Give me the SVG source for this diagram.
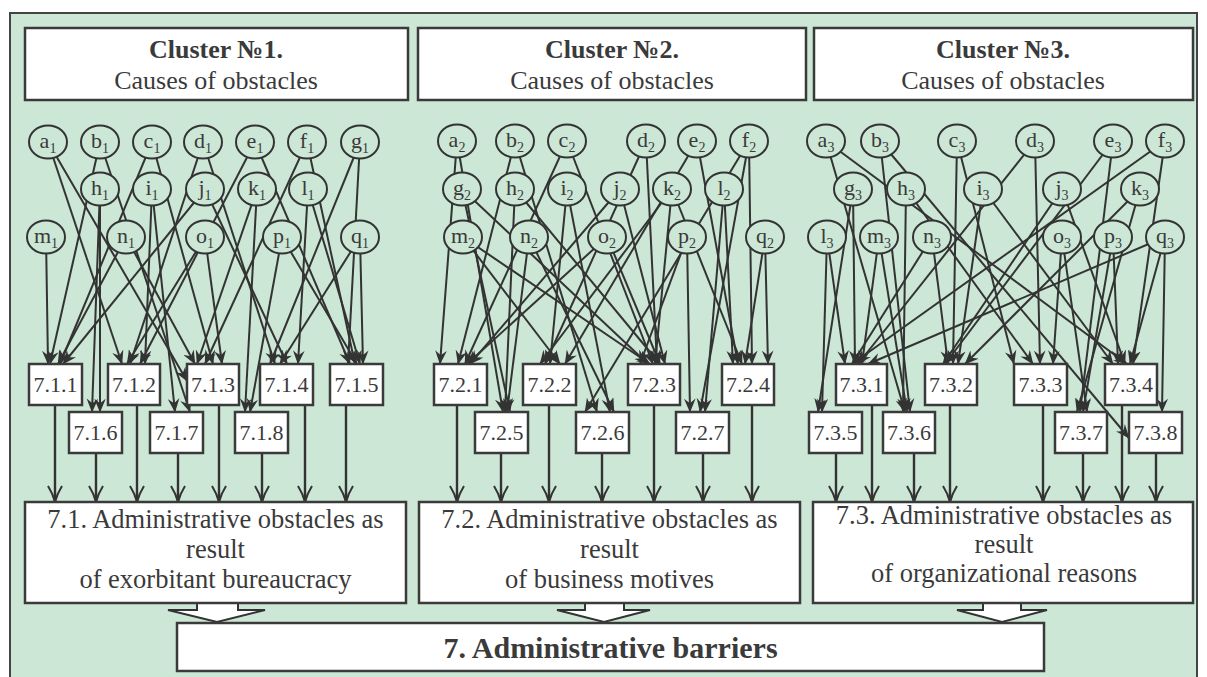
<svg xmlns="http://www.w3.org/2000/svg" width="1207" height="677" viewBox="0 0 1207 677">
<style>
text{font-family:"Liberation Serif","Times New Roman",serif;fill:#3a3a3a}
.e{stroke:#333;stroke-width:2;fill:none;marker-end:url(#ah)}
.v{stroke:#333;stroke-width:2.4;fill:none;marker-end:url(#ahb)}
.n ellipse{fill:#cce7d6;stroke:#333;stroke-width:2}
.n text{font-size:22px;text-anchor:middle}
.sub{font-size:14px}
.b rect{fill:#fff;stroke:#3a3a3a;stroke-width:2.5}
.b text{font-size:22px;text-anchor:middle}
.h text{font-size:26px;text-anchor:middle}
.h .t{font-weight:bold}
.r text{font-size:26.5px;text-anchor:middle}
.ba{fill:#fff;stroke:#333;stroke-width:2}
</style>
<defs>
<marker id="ah" markerUnits="userSpaceOnUse" markerWidth="14" markerHeight="12" viewBox="0 0 12 10" refX="11.5" refY="5" orient="auto"><path d="M0,0 L12,5 L0,10 L4,5 Z" fill="#333"/></marker>
<marker id="ahb" markerUnits="userSpaceOnUse" markerWidth="18" markerHeight="16" viewBox="0 0 18 16" refX="17" refY="8" orient="auto"><path d="M1,1 Q9,6 17,8 Q9,10 1,15" fill="none" stroke="#333" stroke-width="2"/></marker>
</defs>
<rect width="1207" height="677" fill="#fff"/>
<rect x="10" y="13" width="1187" height="700" fill="#cce7d6" stroke="#444" stroke-width="2"/>

<g id="connectors">
<!-- cluster 1 -->
<line class="e" x1="48" y1="142" x2="122" y2="364"/>
<line class="e" x1="48" y1="142" x2="187" y2="381"/>
<line class="e" x1="100" y1="142" x2="50" y2="364"/>
<line class="e" x1="100" y1="142" x2="190" y2="412"/>
<line class="e" x1="152" y1="142" x2="60" y2="364"/>
<line class="e" x1="152" y1="142" x2="213" y2="364"/>
<line class="e" x1="203" y1="142" x2="130" y2="364"/>
<line class="e" x1="203" y1="142" x2="275" y2="364"/>
<line class="e" x1="255" y1="142" x2="140" y2="364"/>
<line class="e" x1="255" y1="142" x2="350" y2="364"/>
<line class="e" x1="307" y1="142" x2="205" y2="364"/>
<line class="e" x1="307" y1="142" x2="355" y2="364"/>
<line class="e" x1="360" y1="142" x2="270" y2="364"/>
<line class="e" x1="360" y1="142" x2="348" y2="364"/>
<line class="e" x1="100" y1="189" x2="92" y2="412"/>
<line class="e" x1="100" y1="189" x2="100" y2="412"/>
<line class="e" x1="152" y1="189" x2="145" y2="364"/>
<line class="e" x1="152" y1="189" x2="175" y2="412"/>
<line class="e" x1="205" y1="189" x2="63" y2="364"/>
<line class="e" x1="205" y1="189" x2="287" y2="364"/>
<line class="e" x1="257" y1="189" x2="197" y2="364"/>
<line class="e" x1="257" y1="189" x2="245" y2="412"/>
<line class="e" x1="308" y1="189" x2="298" y2="364"/>
<line class="e" x1="308" y1="189" x2="360" y2="364"/>
<line class="e" x1="46" y1="237" x2="48" y2="364"/>
<line class="e" x1="126" y1="237" x2="58" y2="364"/>
<line class="e" x1="126" y1="237" x2="195" y2="364"/>
<line class="e" x1="205" y1="237" x2="127" y2="364"/>
<line class="e" x1="205" y1="237" x2="222" y2="364"/>
<line class="e" x1="282" y1="237" x2="250" y2="412"/>
<line class="e" x1="282" y1="237" x2="357" y2="364"/>
<line class="e" x1="360" y1="237" x2="280" y2="364"/>
<line class="e" x1="360" y1="237" x2="363" y2="364"/>
<!-- cluster 2 -->
<line class="e" x1="457" y1="141" x2="440" y2="364"/>
<line class="e" x1="457" y1="141" x2="503" y2="412"/>
<line class="e" x1="515" y1="141" x2="458" y2="364"/>
<line class="e" x1="515" y1="141" x2="597" y2="412"/>
<line class="e" x1="567" y1="141" x2="465" y2="364"/>
<line class="e" x1="567" y1="141" x2="653" y2="364"/>
<line class="e" x1="646" y1="141" x2="545" y2="364"/>
<line class="e" x1="646" y1="141" x2="657" y2="364"/>
<line class="e" x1="697" y1="141" x2="565" y2="364"/>
<line class="e" x1="697" y1="141" x2="738" y2="364"/>
<line class="e" x1="749" y1="141" x2="752" y2="364"/>
<line class="e" x1="749" y1="141" x2="700" y2="412"/>
<line class="e" x1="749" y1="141" x2="585" y2="412"/>
<line class="e" x1="462" y1="189" x2="510" y2="412"/>
<line class="e" x1="462" y1="189" x2="648" y2="364"/>
<line class="e" x1="515" y1="189" x2="505" y2="412"/>
<line class="e" x1="515" y1="189" x2="660" y2="364"/>
<line class="e" x1="567" y1="189" x2="550" y2="364"/>
<line class="e" x1="567" y1="189" x2="610" y2="412"/>
<line class="e" x1="620" y1="189" x2="470" y2="364"/>
<line class="e" x1="620" y1="189" x2="665" y2="364"/>
<line class="e" x1="672" y1="189" x2="540" y2="364"/>
<line class="e" x1="672" y1="189" x2="655" y2="364"/>
<line class="e" x1="672" y1="189" x2="742" y2="364"/>
<line class="e" x1="724" y1="189" x2="705" y2="412"/>
<line class="e" x1="724" y1="189" x2="733" y2="364"/>
<line class="e" x1="463" y1="237" x2="650" y2="364"/>
<line class="e" x1="463" y1="237" x2="560" y2="364"/>
<line class="e" x1="529" y1="237" x2="507" y2="412"/>
<line class="e" x1="529" y1="237" x2="614" y2="412"/>
<line class="e" x1="607" y1="237" x2="467" y2="364"/>
<line class="e" x1="607" y1="237" x2="660" y2="364"/>
<line class="e" x1="687" y1="237" x2="640" y2="364"/>
<line class="e" x1="687" y1="237" x2="690" y2="412"/>
<line class="e" x1="765" y1="237" x2="745" y2="364"/>
<line class="e" x1="765" y1="237" x2="768" y2="364"/>
<!-- cluster 3 -->
<line class="e" x1="826" y1="141" x2="905" y2="412"/>
<line class="e" x1="826" y1="141" x2="1127" y2="364"/>
<line class="e" x1="880" y1="141" x2="910" y2="412"/>
<line class="e" x1="880" y1="141" x2="1129" y2="438"/>
<line class="e" x1="957" y1="141" x2="953" y2="364"/>
<line class="e" x1="957" y1="141" x2="1014" y2="364"/>
<line class="e" x1="1035" y1="141" x2="858" y2="364"/>
<line class="e" x1="1035" y1="141" x2="1040" y2="364"/>
<line class="e" x1="1113" y1="141" x2="945" y2="364"/>
<line class="e" x1="1113" y1="141" x2="1080" y2="412"/>
<line class="e" x1="1165" y1="141" x2="852" y2="364"/>
<line class="e" x1="1165" y1="141" x2="1133" y2="364"/>
<line class="e" x1="853" y1="189" x2="818" y2="412"/>
<line class="e" x1="853" y1="189" x2="855" y2="364"/>
<line class="e" x1="906" y1="189" x2="903" y2="412"/>
<line class="e" x1="906" y1="189" x2="1033" y2="364"/>
<line class="e" x1="983" y1="189" x2="958" y2="364"/>
<line class="e" x1="983" y1="189" x2="1113" y2="364"/>
<line class="e" x1="1062" y1="189" x2="943" y2="364"/>
<line class="e" x1="1062" y1="189" x2="1125" y2="364"/>
<line class="e" x1="1140" y1="189" x2="965" y2="364"/>
<line class="e" x1="1140" y1="189" x2="1077" y2="412"/>
<line class="e" x1="827" y1="237" x2="822" y2="412"/>
<line class="e" x1="827" y1="237" x2="845" y2="364"/>
<line class="e" x1="879" y1="237" x2="862" y2="364"/>
<line class="e" x1="879" y1="237" x2="907" y2="412"/>
<line class="e" x1="932" y1="237" x2="852" y2="364"/>
<line class="e" x1="932" y1="237" x2="948" y2="364"/>
<line class="e" x1="1062" y1="237" x2="1053" y2="364"/>
<line class="e" x1="1062" y1="237" x2="1087" y2="412"/>
<line class="e" x1="1113" y1="237" x2="1083" y2="412"/>
<line class="e" x1="1113" y1="237" x2="1118" y2="364"/>
<line class="e" x1="1165" y1="237" x2="868" y2="364"/>
<line class="e" x1="1165" y1="237" x2="1130" y2="364"/>
<line class="e" x1="1165" y1="237" x2="1162" y2="412"/>
<!-- boxes to results -->
<line class="v" x1="55" y1="405" x2="55" y2="502"/>
<line class="v" x1="96" y1="453" x2="96" y2="502"/>
<line class="v" x1="137" y1="405" x2="137" y2="502"/>
<line class="v" x1="178" y1="453" x2="178" y2="502"/>
<line class="v" x1="219" y1="405" x2="219" y2="502"/>
<line class="v" x1="262" y1="453" x2="262" y2="502"/>
<line class="v" x1="305" y1="405" x2="305" y2="502"/>
<line class="v" x1="346" y1="405" x2="346" y2="502"/>
<line class="v" x1="457" y1="405" x2="457" y2="502"/>
<line class="v" x1="501" y1="453" x2="501" y2="502"/>
<line class="v" x1="549" y1="405" x2="549" y2="502"/>
<line class="v" x1="602" y1="453" x2="602" y2="502"/>
<line class="v" x1="654" y1="405" x2="654" y2="502"/>
<line class="v" x1="703" y1="453" x2="703" y2="502"/>
<line class="v" x1="752" y1="405" x2="752" y2="502"/>
<line class="v" x1="836" y1="453" x2="836" y2="502"/>
<line class="v" x1="872" y1="405" x2="872" y2="502"/>
<line class="v" x1="914" y1="453" x2="914" y2="502"/>
<line class="v" x1="950" y1="405" x2="950" y2="502"/>
<line class="v" x1="1043" y1="405" x2="1043" y2="502"/>
<line class="v" x1="1083" y1="453" x2="1083" y2="502"/>
<line class="v" x1="1122" y1="405" x2="1122" y2="502"/>
<line class="v" x1="1156" y1="453" x2="1156" y2="502"/>
<!-- block arrows -->
<polygon class="ba" points="197,603 238,603 238,610 265,610 217,622 168,610 197,610"/>
<polygon class="ba" points="585,603 624,603 624,610 650,610 604,622 557,610 585,610"/>
<polygon class="ba" points="983,603 1021,603 1021,610 1047,610 1002,622 957,610 983,610"/>
</g>

<g id="headers" class="h">
<g id="cluster1"><rect x="25" y="28" width="383" height="72" fill="#fff" stroke="#3a3a3a" stroke-width="2.5"/><text class="t" x="216" y="58">Cluster №1.</text><text x="216" y="89">Causes of obstacles</text></g>
<g id="cluster2"><rect x="418" y="28" width="388" height="72" fill="#fff" stroke="#3a3a3a" stroke-width="2.5"/><text class="t" x="612" y="58">Cluster №2.</text><text x="612" y="89">Causes of obstacles</text></g>
<g id="cluster3"><rect x="814" y="28" width="379" height="72" fill="#fff" stroke="#3a3a3a" stroke-width="2.5"/><text class="t" x="1003" y="58">Cluster №3.</text><text x="1003" y="89">Causes of obstacles</text></g>
</g>

<g id="causes" class="n">
<g id="a1"><ellipse cx="48" cy="142" rx="19" ry="16.5"/><text x="48" y="148">a<tspan class="sub" dy="5">1</tspan></text></g>
<g id="b1"><ellipse cx="100" cy="142" rx="19" ry="16.5"/><text x="100" y="148">b<tspan class="sub" dy="5">1</tspan></text></g>
<g id="c1"><ellipse cx="152" cy="142" rx="19" ry="16.5"/><text x="152" y="148">c<tspan class="sub" dy="5">1</tspan></text></g>
<g id="d1"><ellipse cx="203" cy="142" rx="19" ry="16.5"/><text x="203" y="148">d<tspan class="sub" dy="5">1</tspan></text></g>
<g id="e1"><ellipse cx="255" cy="142" rx="19" ry="16.5"/><text x="255" y="148">e<tspan class="sub" dy="5">1</tspan></text></g>
<g id="f1"><ellipse cx="307" cy="142" rx="19" ry="16.5"/><text x="307" y="148">f<tspan class="sub" dy="5">1</tspan></text></g>
<g id="g1"><ellipse cx="360" cy="142" rx="19" ry="16.5"/><text x="360" y="148">g<tspan class="sub" dy="5">1</tspan></text></g>
<g id="h1"><ellipse cx="100" cy="189" rx="19" ry="16.5"/><text x="100" y="195">h<tspan class="sub" dy="5">1</tspan></text></g>
<g id="i1"><ellipse cx="152" cy="189" rx="19" ry="16.5"/><text x="152" y="195">i<tspan class="sub" dy="5">1</tspan></text></g>
<g id="j1"><ellipse cx="205" cy="189" rx="19" ry="16.5"/><text x="205" y="195">j<tspan class="sub" dy="5">1</tspan></text></g>
<g id="k1"><ellipse cx="257" cy="189" rx="19" ry="16.5"/><text x="257" y="195">k<tspan class="sub" dy="5">1</tspan></text></g>
<g id="l1"><ellipse cx="308" cy="189" rx="19" ry="16.5"/><text x="308" y="195">l<tspan class="sub" dy="5">1</tspan></text></g>
<g id="m1"><ellipse cx="46" cy="237" rx="19" ry="16.5"/><text x="46" y="243">m<tspan class="sub" dy="5">1</tspan></text></g>
<g id="n1"><ellipse cx="126" cy="237" rx="19" ry="16.5"/><text x="126" y="243">n<tspan class="sub" dy="5">1</tspan></text></g>
<g id="o1"><ellipse cx="205" cy="237" rx="19" ry="16.5"/><text x="205" y="243">o<tspan class="sub" dy="5">1</tspan></text></g>
<g id="p1"><ellipse cx="282" cy="237" rx="19" ry="16.5"/><text x="282" y="243">p<tspan class="sub" dy="5">1</tspan></text></g>
<g id="q1"><ellipse cx="360" cy="237" rx="19" ry="16.5"/><text x="360" y="243">q<tspan class="sub" dy="5">1</tspan></text></g>

<g id="a2"><ellipse cx="457" cy="141" rx="19" ry="16.5"/><text x="457" y="147">a<tspan class="sub" dy="5">2</tspan></text></g>
<g id="b2"><ellipse cx="515" cy="141" rx="19" ry="16.5"/><text x="515" y="147">b<tspan class="sub" dy="5">2</tspan></text></g>
<g id="c2"><ellipse cx="567" cy="141" rx="19" ry="16.5"/><text x="567" y="147">c<tspan class="sub" dy="5">2</tspan></text></g>
<g id="d2"><ellipse cx="646" cy="141" rx="19" ry="16.5"/><text x="646" y="147">d<tspan class="sub" dy="5">2</tspan></text></g>
<g id="e2"><ellipse cx="697" cy="141" rx="19" ry="16.5"/><text x="697" y="147">e<tspan class="sub" dy="5">2</tspan></text></g>
<g id="f2"><ellipse cx="749" cy="141" rx="19" ry="16.5"/><text x="749" y="147">f<tspan class="sub" dy="5">2</tspan></text></g>
<g id="g2"><ellipse cx="462" cy="189" rx="19" ry="16.5"/><text x="462" y="195">g<tspan class="sub" dy="5">2</tspan></text></g>
<g id="h2"><ellipse cx="515" cy="189" rx="19" ry="16.5"/><text x="515" y="195">h<tspan class="sub" dy="5">2</tspan></text></g>
<g id="i2"><ellipse cx="567" cy="189" rx="19" ry="16.5"/><text x="567" y="195">i<tspan class="sub" dy="5">2</tspan></text></g>
<g id="j2"><ellipse cx="620" cy="189" rx="19" ry="16.5"/><text x="620" y="195">j<tspan class="sub" dy="5">2</tspan></text></g>
<g id="k2"><ellipse cx="672" cy="189" rx="19" ry="16.5"/><text x="672" y="195">k<tspan class="sub" dy="5">2</tspan></text></g>
<g id="l2"><ellipse cx="724" cy="189" rx="19" ry="16.5"/><text x="724" y="195">l<tspan class="sub" dy="5">2</tspan></text></g>
<g id="m2"><ellipse cx="463" cy="237" rx="19" ry="16.5"/><text x="463" y="243">m<tspan class="sub" dy="5">2</tspan></text></g>
<g id="n2"><ellipse cx="529" cy="237" rx="19" ry="16.5"/><text x="529" y="243">n<tspan class="sub" dy="5">2</tspan></text></g>
<g id="o2"><ellipse cx="607" cy="237" rx="19" ry="16.5"/><text x="607" y="243">o<tspan class="sub" dy="5">2</tspan></text></g>
<g id="p2"><ellipse cx="687" cy="237" rx="19" ry="16.5"/><text x="687" y="243">p<tspan class="sub" dy="5">2</tspan></text></g>
<g id="q2"><ellipse cx="765" cy="237" rx="19" ry="16.5"/><text x="765" y="243">q<tspan class="sub" dy="5">2</tspan></text></g>

<g id="a3"><ellipse cx="826" cy="141" rx="19" ry="16.5"/><text x="826" y="147">a<tspan class="sub" dy="5">3</tspan></text></g>
<g id="b3"><ellipse cx="880" cy="141" rx="19" ry="16.5"/><text x="880" y="147">b<tspan class="sub" dy="5">3</tspan></text></g>
<g id="c3"><ellipse cx="957" cy="141" rx="19" ry="16.5"/><text x="957" y="147">c<tspan class="sub" dy="5">3</tspan></text></g>
<g id="d3"><ellipse cx="1035" cy="141" rx="19" ry="16.5"/><text x="1035" y="147">d<tspan class="sub" dy="5">3</tspan></text></g>
<g id="e3"><ellipse cx="1113" cy="141" rx="19" ry="16.5"/><text x="1113" y="147">e<tspan class="sub" dy="5">3</tspan></text></g>
<g id="f3"><ellipse cx="1165" cy="141" rx="19" ry="16.5"/><text x="1165" y="147">f<tspan class="sub" dy="5">3</tspan></text></g>
<g id="g3"><ellipse cx="853" cy="189" rx="19" ry="16.5"/><text x="853" y="195">g<tspan class="sub" dy="5">3</tspan></text></g>
<g id="h3"><ellipse cx="906" cy="189" rx="19" ry="16.5"/><text x="906" y="195">h<tspan class="sub" dy="5">3</tspan></text></g>
<g id="i3"><ellipse cx="983" cy="189" rx="19" ry="16.5"/><text x="983" y="195">i<tspan class="sub" dy="5">3</tspan></text></g>
<g id="j3"><ellipse cx="1062" cy="189" rx="19" ry="16.5"/><text x="1062" y="195">j<tspan class="sub" dy="5">3</tspan></text></g>
<g id="k3"><ellipse cx="1140" cy="189" rx="19" ry="16.5"/><text x="1140" y="195">k<tspan class="sub" dy="5">3</tspan></text></g>
<g id="l3"><ellipse cx="827" cy="237" rx="19" ry="16.5"/><text x="827" y="243">l<tspan class="sub" dy="5">3</tspan></text></g>
<g id="m3"><ellipse cx="879" cy="237" rx="19" ry="16.5"/><text x="879" y="243">m<tspan class="sub" dy="5">3</tspan></text></g>
<g id="n3"><ellipse cx="932" cy="237" rx="19" ry="16.5"/><text x="932" y="243">n<tspan class="sub" dy="5">3</tspan></text></g>
<g id="o3"><ellipse cx="1062" cy="237" rx="19" ry="16.5"/><text x="1062" y="243">o<tspan class="sub" dy="5">3</tspan></text></g>
<g id="p3"><ellipse cx="1113" cy="237" rx="19" ry="16.5"/><text x="1113" y="243">p<tspan class="sub" dy="5">3</tspan></text></g>
<g id="q3"><ellipse cx="1165" cy="237" rx="19" ry="16.5"/><text x="1165" y="243">q<tspan class="sub" dy="5">3</tspan></text></g>
</g>

<g id="obstacles" class="b">
<g id="n7-1-1"><rect x="29" y="364" width="53" height="41"/><text x="55.5" y="392">7.1.1</text></g>
<g id="n7-1-2"><rect x="108" y="364" width="52" height="41"/><text x="134" y="392">7.1.2</text></g>
<g id="n7-1-3"><rect x="187" y="364" width="52" height="41"/><text x="213" y="392">7.1.3</text></g>
<g id="n7-1-4"><rect x="260" y="364" width="53" height="41"/><text x="286.5" y="392">7.1.4</text></g>
<g id="n7-1-5"><rect x="330" y="364" width="53" height="41"/><text x="356.5" y="392">7.1.5</text></g>
<g id="n7-1-6"><rect x="69" y="412" width="53" height="41"/><text x="95.5" y="440">7.1.6</text></g>
<g id="n7-1-7"><rect x="150" y="412" width="53" height="41"/><text x="176.5" y="440">7.1.7</text></g>
<g id="n7-1-8"><rect x="235" y="412" width="53" height="41"/><text x="261.5" y="440">7.1.8</text></g>

<g id="n7-2-1"><rect x="434" y="364" width="53" height="41"/><text x="460.5" y="392">7.2.1</text></g>
<g id="n7-2-2"><rect x="523" y="364" width="53" height="41"/><text x="549.5" y="392">7.2.2</text></g>
<g id="n7-2-3"><rect x="628" y="364" width="52" height="41"/><text x="654" y="392">7.2.3</text></g>
<g id="n7-2-4"><rect x="722" y="364" width="52" height="41"/><text x="748" y="392">7.2.4</text></g>
<g id="n7-2-5"><rect x="475" y="412" width="53" height="41"/><text x="501.5" y="440">7.2.5</text></g>
<g id="n7-2-6"><rect x="576" y="412" width="53" height="41"/><text x="602.5" y="440">7.2.6</text></g>
<g id="n7-2-7"><rect x="676" y="412" width="53" height="41"/><text x="702.5" y="440">7.2.7</text></g>

<g id="n7-3-1"><rect x="836" y="364" width="51" height="41"/><text x="861.5" y="392">7.3.1</text></g>
<g id="n7-3-2"><rect x="925" y="364" width="52" height="41"/><text x="951" y="392">7.3.2</text></g>
<g id="n7-3-3"><rect x="1014" y="364" width="53" height="41"/><text x="1040.5" y="392">7.3.3</text></g>
<g id="n7-3-4"><rect x="1105" y="364" width="52" height="41"/><text x="1131" y="392">7.3.4</text></g>
<g id="n7-3-5"><rect x="809" y="412" width="53" height="41"/><text x="835.5" y="440">7.3.5</text></g>
<g id="n7-3-6"><rect x="883" y="412" width="52" height="41"/><text x="909" y="440">7.3.6</text></g>
<g id="n7-3-7"><rect x="1055" y="412" width="52" height="41"/><text x="1081" y="440">7.3.7</text></g>
<g id="n7-3-8"><rect x="1129" y="412" width="53" height="41"/><text x="1155.5" y="440">7.3.8</text></g>
</g>

<g id="results" class="r">
<g id="n7-1"><rect x="25" y="502" width="381" height="101" fill="#fff" stroke="#3a3a3a" stroke-width="2.5"/><text x="215.5" y="528">7.1. Administrative obstacles as</text><text x="215.5" y="558">result</text><text x="215.5" y="588">of exorbitant bureaucracy</text></g>
<g id="n7-2"><rect x="419" y="502" width="381" height="101" fill="#fff" stroke="#3a3a3a" stroke-width="2.5"/><text x="609.5" y="528">7.2. Administrative obstacles as</text><text x="609.5" y="558">result</text><text x="609.5" y="588">of business motives</text></g>
<g id="n7-3"><rect x="813" y="502" width="380" height="101" fill="#fff" stroke="#3a3a3a" stroke-width="2.5"/><text x="1004" y="524" font-size="24">7.3. Administrative obstacles as</text><text x="1004" y="553" font-size="24">result</text><text x="1004" y="582" font-size="24">of organizational reasons</text></g>
</g>

<g id="n7">
<rect x="177" y="623" width="867" height="48" fill="#fff" stroke="#3a3a3a" stroke-width="2.5"/>
<text x="610.5" y="658" font-size="30" font-weight="bold" text-anchor="middle">7. Administrative barriers</text>
</g>
</svg>
